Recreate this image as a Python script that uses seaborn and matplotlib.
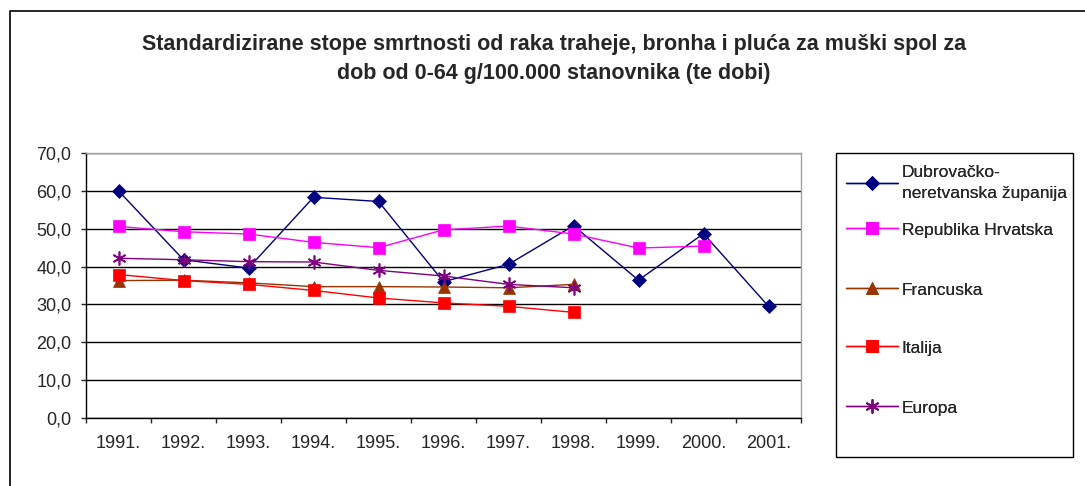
from matplotlib import pyplot as plt
from matplotlib.patches import Rectangle
from matplotlib.lines import Line2D
import pandas as pd
import seaborn as sns
import numpy as np

# years on the category axis
years = ["1991.", "1992.", "1993.", "1994.", "1995.", "1996.", "1997.", "1998.", "1999.", "2000.", "2001."]

dubrovnik = [60.0, 41.8, 39.6, 58.3, 57.2, 36.0, 40.6, 50.8, 36.4, 48.7, 29.5]
hrvatska = [50.6, 49.2, 48.6, 46.4, 45.0, 49.7, 50.7, 48.6, 44.9, 45.4, np.nan]
francuska = [36.3, 36.4, 35.7, 34.7, 34.7, 34.6, 34.4, 35.3, np.nan, np.nan, np.nan]
italija = [37.9, 36.3, 35.3, 33.7, 31.7, 30.4, 29.5, 27.9, np.nan, np.nan, np.nan]
europa = [42.2, 41.8, 41.3, 41.2, 39.0, 37.5, 35.3, 34.4, np.nan, np.nan, np.nan]

series_names = ["Dubrovačko-\nneretvanska županija", "Republika Hrvatska", "Francuska", "Italija", "Europa"]
series_values = [dubrovnik, hrvatska, francuska, italija, europa]

colors = ["#000080", "#FF00FF", "#993300", "#FF0000", "#800080"]
markers = ["D", "s", "^", "s", (6, 2, 0)]
msizes = [7, 8.5, 8, 8.5, 10]

W, H = 1085, 486

rows = []
for name, vals in zip(series_names, series_values):
    for i, v in enumerate(vals):
        rows.append({"serija": name, "x": i, "y": v})
df = pd.DataFrame(rows).dropna()

sns.set_style("white")
plt.rcParams['font.family'] = ['Liberation Sans', 'DejaVu Sans']

fig = plt.figure(figsize=(W / 100, H / 100), dpi=100)
ax = fig.add_axes([86 / W, 68 / H, 715 / W, 265 / H])

for name, col, mk, ms in zip(series_names, colors, markers, msizes):
    sub = df[df["serija"] == name]
    sns.lineplot(ax=ax, data=sub, x="x", y="y", color=col, marker=mk, markersize=ms,
                 markeredgecolor=col, markerfacecolor=col, linewidth=1, label=name,
                 markeredgewidth=1.2 if mk == (6, 2, 0) else 0.5)

ax.set_xlim(-0.5, 10.5)
ax.set_ylim(0, 70)
ax.set_yticks(np.arange(0, 71, 10))
ax.set_yticklabels([f"{v:.1f}".replace(".", ",") for v in np.arange(0, 71, 10)], fontsize=13)
ax.set_xticks(range(len(years)))
ax.set_xticklabels(years, fontsize=13)
ax.set_xticks(np.arange(-0.5, 11, 1), minor=True)
ax.tick_params(axis="x", which="major", length=0, pad=12)
ax.tick_params(axis="x", which="minor", length=3.5, width=1, direction="out", bottom=True)
ax.tick_params(axis="y", length=3.5, width=1, direction="out", left=True, pad=7)
ax.set_xlabel("")
ax.set_ylabel("")
ax.grid(axis="y", color="black", linewidth=1)
ax.set_axisbelow(True)
for s in ["top", "right"]:
    ax.spines[s].set_color("#a0a0a0")
for s in ["left", "bottom"]:
    ax.spines[s].set_color("black")
for s in ax.spines.values():
    s.set_linewidth(1)

# legend: one entry per series, framed box on the right
handles, labels = ax.get_legend_handles_labels()
ax.legend_.remove()
entry_y = [183, 230, 290, 348, 408]
for h, lab, yc in zip(handles, labels, entry_y):
    lg = fig.legend([h], [lab], loc="center left", bbox_to_anchor=(846 / W, 1 - yc / H),
                    fontsize=12.5, frameon=False, handlelength=3.0, handletextpad=0.2,
                    borderpad=0, borderaxespad=0)
    for t in lg.get_texts():
        t.set_linespacing(1.45)
    fig.add_artist(lg)
fig.patches.append(Rectangle((836 / W, 1 - 457 / H), 237 / W, 304 / H, transform=fig.transFigure,
                             fill=False, edgecolor="black", linewidth=1))

fig.text(554 / W, 1 - 59 / H,
         "Standardizirane stope smrtnosti od raka traheje, bronha i pluća za muški spol za\n"
         "dob od 0-64 g/100.000 stanovnika (te dobi)",
         ha="center", va="center", fontsize=15.5, fontweight="bold", linespacing=1.45)

# outer chart border (left and top edges visible)
fig.add_artist(Line2D([10 / W, 10 / W, 1.0], [0.0, 1 - 11 / H, 1 - 11 / H],
                      transform=fig.transFigure, color="black", linewidth=1.2))

plt.savefig("out.png", dpi=100)
